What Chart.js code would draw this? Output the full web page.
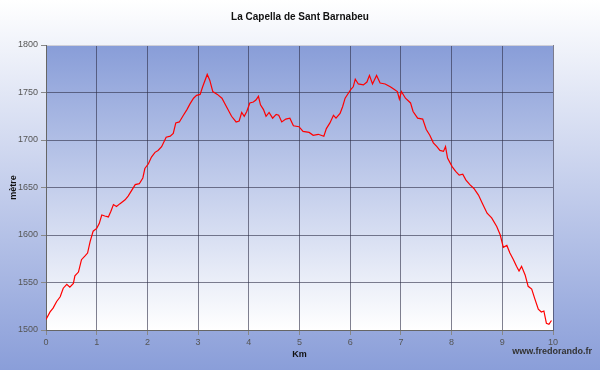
<!DOCTYPE html>
<html>
<head>
<meta charset="utf-8">
<script src="https://cdn.jsdelivr.net/npm/chart.js@4.4.1/dist/chart.umd.min.js"></script>
<style>
  html, body { margin: 0; padding: 0; background: #fff; }
</style>
</head>
<body>
<canvas id="profile" width="600" height="370"></canvas>
<script>
// distance along the route (km) and altitude (m)
const km = [
  0, 0.08, 0.14, 0.21, 0.28, 0.34, 0.41, 0.47, 0.54, 0.57,
  0.64, 0.70, 0.77, 0.82, 0.87, 0.93, 1.00, 1.05, 1.10, 1.16,
  1.23, 1.28, 1.33, 1.39, 1.46, 1.56, 1.62, 1.69, 1.76, 1.84,
  1.91, 1.95, 2.02, 2.08, 2.15, 2.21, 2.28, 2.37, 2.45, 2.51,
  2.56, 2.63, 2.71, 2.78, 2.84, 2.91, 2.97, 3.04, 3.09, 3.18,
  3.23, 3.29, 3.38, 3.47, 3.56, 3.66, 3.75, 3.81, 3.86, 3.91,
  3.96, 4.02, 4.09, 4.14, 4.19, 4.23, 4.29, 4.34, 4.40, 4.47,
  4.54, 4.59, 4.65, 4.73, 4.81, 4.88, 4.99, 5.07, 5.19, 5.27,
  5.37, 5.48, 5.53, 5.60, 5.67, 5.72, 5.80, 5.85, 5.90, 5.96,
  6.01, 6.06, 6.10, 6.16, 6.26, 6.33, 6.38, 6.44, 6.52, 6.59,
  6.69, 6.79, 6.85, 6.93, 6.97, 7.01, 7.09, 7.19, 7.24, 7.33,
  7.43, 7.50, 7.57, 7.64, 7.71, 7.77, 7.84, 7.88, 7.92, 8.01,
  8.08, 8.15, 8.22, 8.28, 8.36, 8.44, 8.53, 8.61, 8.70, 8.79,
  8.89, 8.96, 9.02, 9.09, 9.15, 9.22, 9.28, 9.33, 9.38, 9.45,
  9.51, 9.58, 9.64, 9.71, 9.77, 9.82, 9.87, 9.92, 9.97
];
const altitude = [
  1511, 1519, 1523, 1530, 1535, 1544, 1548, 1545, 1549, 1557,
  1561, 1574, 1578, 1581, 1593, 1604, 1607, 1612, 1621, 1620,
  1619, 1625, 1632, 1630, 1633, 1637, 1641, 1647, 1653, 1654,
  1660, 1670, 1675, 1682, 1687, 1689, 1693, 1703, 1704, 1707,
  1718, 1719, 1726, 1732, 1738, 1744, 1747, 1748, 1756, 1769,
  1763, 1751, 1748, 1744, 1735, 1725, 1719, 1720, 1729, 1725,
  1730, 1739, 1740, 1742, 1746, 1737, 1732, 1725, 1729, 1723,
  1727, 1726, 1719, 1722, 1723, 1715, 1714, 1709, 1708, 1705,
  1706, 1704, 1712, 1718, 1726, 1723, 1728, 1735, 1744, 1749,
  1753, 1756, 1764, 1759, 1758, 1761, 1768, 1759, 1768, 1760,
  1759, 1756, 1754, 1751, 1743, 1751, 1744, 1739, 1730, 1723,
  1722, 1711, 1705, 1697, 1693, 1689, 1688, 1693, 1681, 1672,
  1667, 1663, 1664, 1658, 1653, 1649, 1642, 1633, 1623, 1618,
  1609, 1600, 1587, 1589, 1581, 1574, 1567, 1562, 1567, 1558,
  1546, 1543, 1533, 1522, 1519, 1520, 1507, 1506, 1510
];
const xRange = [0, 10];
const yRange = [1500, 1800];
const yStep = 50;

const FONT = '"Liberation Sans", Arial, sans-serif';

// blue gradients behind the page and the plot, plus the site credit
const backgroundPlugin = {
  id: 'background',
  beforeDraw(chart) {
    const { ctx, width, height, chartArea } = chart;
    ctx.save();
    let g = ctx.createLinearGradient(0, 0, 0, height);
    g.addColorStop(0, '#ffffff');
    g.addColorStop(1, '#8a9ed9');
    ctx.fillStyle = g;
    ctx.fillRect(0, 0, width, height);

    g = ctx.createLinearGradient(0, chartArea.top, 0, chartArea.bottom);
    g.addColorStop(0, '#889dd8');
    g.addColorStop(1, '#ffffff');
    ctx.fillStyle = g;
    ctx.fillRect(chartArea.left, chartArea.top, chartArea.right - chartArea.left, chartArea.bottom - chartArea.top);
    ctx.restore();
  },
  afterDraw(chart) {
    const ctx = chart.ctx;
    ctx.save();
    ctx.font = 'bold 9px ' + FONT;
    ctx.fillStyle = '#333';
    ctx.textAlign = 'right';
    ctx.textBaseline = 'middle';
    ctx.fillText('www.fredorando.fr', 592, 352);
    ctx.restore();
  }
};

const gridColor = (c) => c.tick && c.tick.value === yRange[1] ? '#cfcfd8' : 'rgba(45,45,70,0.6)';

new Chart(document.getElementById('profile'), {
  type: 'line',
  data: {
    datasets: [{
      label: 'Altitude',
      data: km.map((k, i) => ({ x: k, y: altitude[i] })),
      borderColor: '#ff0000',
      borderWidth: 1.2,
      pointRadius: 0,
      tension: 0,
      fill: false
    }]
  },
  options: {
    responsive: false,
    animation: false,
    layout: { padding: 0 },
    plugins: {
      legend: { display: false },
      tooltip: { enabled: false },
      title: {
        display: true,
        text: 'La Capella de Sant Barnabeu',
        color: '#111',
        font: { family: FONT, size: 10, weight: 'bold' },
        padding: { top: 11, bottom: 22 }
      }
    },
    scales: {
      x: {
        type: 'linear',
        min: xRange[0],
        max: xRange[1],
        afterFit: (s) => { s.height = 40; },
        ticks: { stepSize: 1, padding: 2, color: '#555', font: { family: FONT, size: 9 } },
        grid: { color: 'rgba(45,45,70,0.6)', tickLength: 5, tickColor: '#888' },
        border: { color: '#666' },
        title: {
          display: true,
          text: 'Km',
          color: '#111',
          font: { family: FONT, size: 9, weight: 'bold' },
          padding: { top: 0, bottom: 9.6 }
        }
      },
      y: {
        min: yRange[0],
        max: yRange[1],
        afterFit: (s) => { s.width = 46; },
        ticks: {
          stepSize: yStep,
          padding: 3,
          color: '#555',
          font: { family: FONT, size: 9 },
          callback: (v) => String(v)
        },
        grid: { color: gridColor, tickLength: 5, tickColor: '#888' },
        border: { color: '#666' },
        title: {
          display: true,
          text: 'mètre',
          color: '#111',
          font: { family: FONT, size: 9, weight: 'bold' },
          padding: { top: 8.6, bottom: 0 }
        }
      },
      // empty right-hand strip so the plot ends at the same place as the original
      spacer: {
        position: 'right',
        min: yRange[0],
        max: yRange[1],
        afterFit: (s) => { s.width = 47; },
        ticks: { display: false },
        grid: { display: false, drawTicks: false },
        border: { display: false }
      }
    }
  },
  plugins: [backgroundPlugin]
});
</script>
</body>
</html>
